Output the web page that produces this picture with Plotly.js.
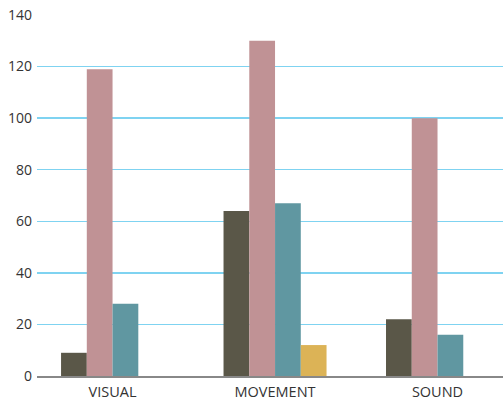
<!DOCTYPE html>
<html>
<head>
<meta charset="utf-8">
<script src="https://cdn.plot.ly/plotly-3.0.1.min.js"></script>
<style>html,body{margin:0;padding:0;background:#fff}#chart{width:503px;height:400px}</style>
</head>
<body>
<div id="chart"></div>
<script>
var categories = ["VISUAL", "MOVEMENT", "SOUND"];
var series1 = [9, 64, 22];
var series2 = [119, 130, 100];
var series3 = [28, 67, 16];
var series4 = [0, 12, 0];
var yTicks = [0, 20, 40, 60, 80, 100, 120, 140];

var colors = ["#5a5748", "#c09295", "#6097a1", "#dcb356"];
var allSeries = [series1, series2, series3, series4];
var traces = allSeries.map(function (vals, i) {
  return {
    type: "bar",
    x: [0, 1, 2],
    y: vals,
    marker: {color: colors[i], line: {width: 0}},
    hoverinfo: "none"
  };
});

var layout = {
  width: 503, height: 400,
  margin: {l: 37, r: 0, t: 15, b: 24},
  paper_bgcolor: "#fff", plot_bgcolor: "#fff",
  showlegend: false,
  barmode: "group",
  bargap: 0.366,
  bargroupgap: 0,
  font: {family: "Open Sans, sans-serif", size: 13, color: "#333"},
  xaxis: {
    range: [-0.465, 2.403],
    tickmode: "array",
    tickvals: [0, 1, 2],
    ticktext: categories,
    showgrid: false,
    zeroline: false,
    showline: true,
    linecolor: "#888",
    linewidth: 1.5,
    ticks: "",
    ticklabelstandoff: 2,
    tickfont: {family: "Open Sans, sans-serif", size: 14.5, color: "#333"},
    fixedrange: true
  },
  yaxis: {
    range: [0, 140],
    tickmode: "array",
    tickvals: yTicks,
    ticktext: yTicks.map(String),
    showgrid: true,
    gridcolor: "#7fd3f1",
    gridwidth: 1.5,
    zeroline: false,
    showline: false,
    ticks: "",
    ticklabelstandoff: 4,
    tickfont: {family: "Open Sans, sans-serif", size: 14, color: "#333"},
    fixedrange: true
  }
};

Plotly.newPlot("chart", traces, layout, {displayModeBar: false, staticPlot: true});
</script>
</body>
</html>
